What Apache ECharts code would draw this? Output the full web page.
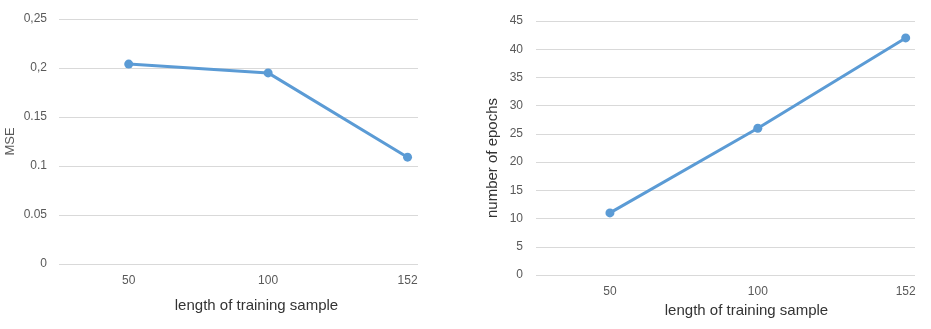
<!DOCTYPE html>
<html>
<head>
<meta charset="utf-8">
<script src="https://cdn.jsdelivr.net/npm/echarts@6/dist/echarts.min.js"></script>
<style>
  html, body { margin: 0; padding: 0; background: #fff; }
  #chart { width: 931px; height: 329px; }
</style>
</head>
<body>
<div id="chart"></div>
<script>
// Training sample lengths shared by both panels
const sampleLengths = ['50', '100', '152'];

// Left panel: mean squared error
const mseValues = [0.204, 0.195, 0.109];
const mseTicks = [0, 0.05, 0.1, 0.15, 0.2, 0.25];
const mseTickLabels = ['0', '0.05', '0.1', '0.15', '0,2', '0,25'];

// Right panel: epochs needed
const epochValues = [11, 26, 42];
const epochTicks = [0, 5, 10, 15, 20, 25, 30, 35, 40, 45];

const lineColor = '#5b9bd5';
const tickColor = '#595959';
const gridColor = '#d9d9d9';
const font = 'Liberation Sans, Arial, sans-serif';

function pairs(values) {
  return values.map((v, i) => [i, v]);
}

function xAxisFor(gridIndex, max, nameGap, shift) {
  return {
    type: 'value',
    gridIndex: gridIndex,
    min: -0.5,
    max: max,
    name: 'length of training sample',
    nameLocation: 'middle',
    nameGap: nameGap,
    nameTextStyle: { color: '#333333', fontSize: 15, fontFamily: font, padding: [0, 0, 0, shift] },
    axisLine: { show: false },
    axisTick: { show: false },
    splitLine: { show: false },
    axisLabel: {
      customValues: [0, 1, 2],
      formatter: v => sampleLengths[Math.round(v)],
      color: tickColor,
      fontSize: 12,
      fontFamily: font,
      margin: 11
    }
  };
}

const chart = echarts.init(document.getElementById('chart'), null, { renderer: 'canvas' });

chart.setOption({
  animation: false,
  backgroundColor: '#ffffff',
  grid: [
    { left: 59, right: 513, top: 19, bottom: 65 },
    { left: 536, right: 16, top: 21, bottom: 54 }
  ],
  xAxis: [
    xAxisFor(0, 2.075, 34, 36),
    xAxisFor(1, 2.063, 27, 42)
  ],
  yAxis: [
    {
      type: 'value',
      gridIndex: 0,
      min: 0,
      max: 0.25,
      interval: 0.05,
      name: 'MSE',
      nameLocation: 'middle',
      nameGap: 42,
      nameTextStyle: { color: tickColor, fontSize: 13, fontFamily: font },
      axisLine: { show: false },
      axisTick: { show: false },
      splitLine: { lineStyle: { color: gridColor, width: 1 } },
      axisLabel: {
        color: tickColor,
        fontSize: 12,
        fontFamily: font,
        margin: 12,
        formatter: v => {
          const i = mseTicks.findIndex(t => Math.abs(t - v) < 1e-9);
          return i >= 0 ? mseTickLabels[i] : '';
        }
      }
    },
    {
      type: 'value',
      gridIndex: 1,
      min: 0,
      max: 45,
      interval: 5,
      name: 'number of epochs',
      nameLocation: 'middle',
      nameGap: 36,
      nameTextStyle: { color: '#333333', fontSize: 15, fontFamily: font, padding: [0, 20, 0, 0] },
      axisLine: { show: false },
      axisTick: { show: false },
      splitLine: { lineStyle: { color: gridColor, width: 1 } },
      axisLabel: {
        color: tickColor,
        fontSize: 12,
        fontFamily: font,
        margin: 13,
        formatter: v => (epochTicks.includes(v) ? String(v) : '')
      }
    }
  ],
  series: [
    {
      type: 'line',
      xAxisIndex: 0,
      yAxisIndex: 0,
      data: pairs(mseValues),
      symbol: 'circle',
      symbolSize: 9,
      lineStyle: { color: lineColor, width: 3 },
      itemStyle: { color: lineColor }
    },
    {
      type: 'line',
      xAxisIndex: 1,
      yAxisIndex: 1,
      data: pairs(epochValues),
      symbol: 'circle',
      symbolSize: 9,
      lineStyle: { color: lineColor, width: 3 },
      itemStyle: { color: lineColor }
    }
  ]
});
</script>
</body>
</html>
